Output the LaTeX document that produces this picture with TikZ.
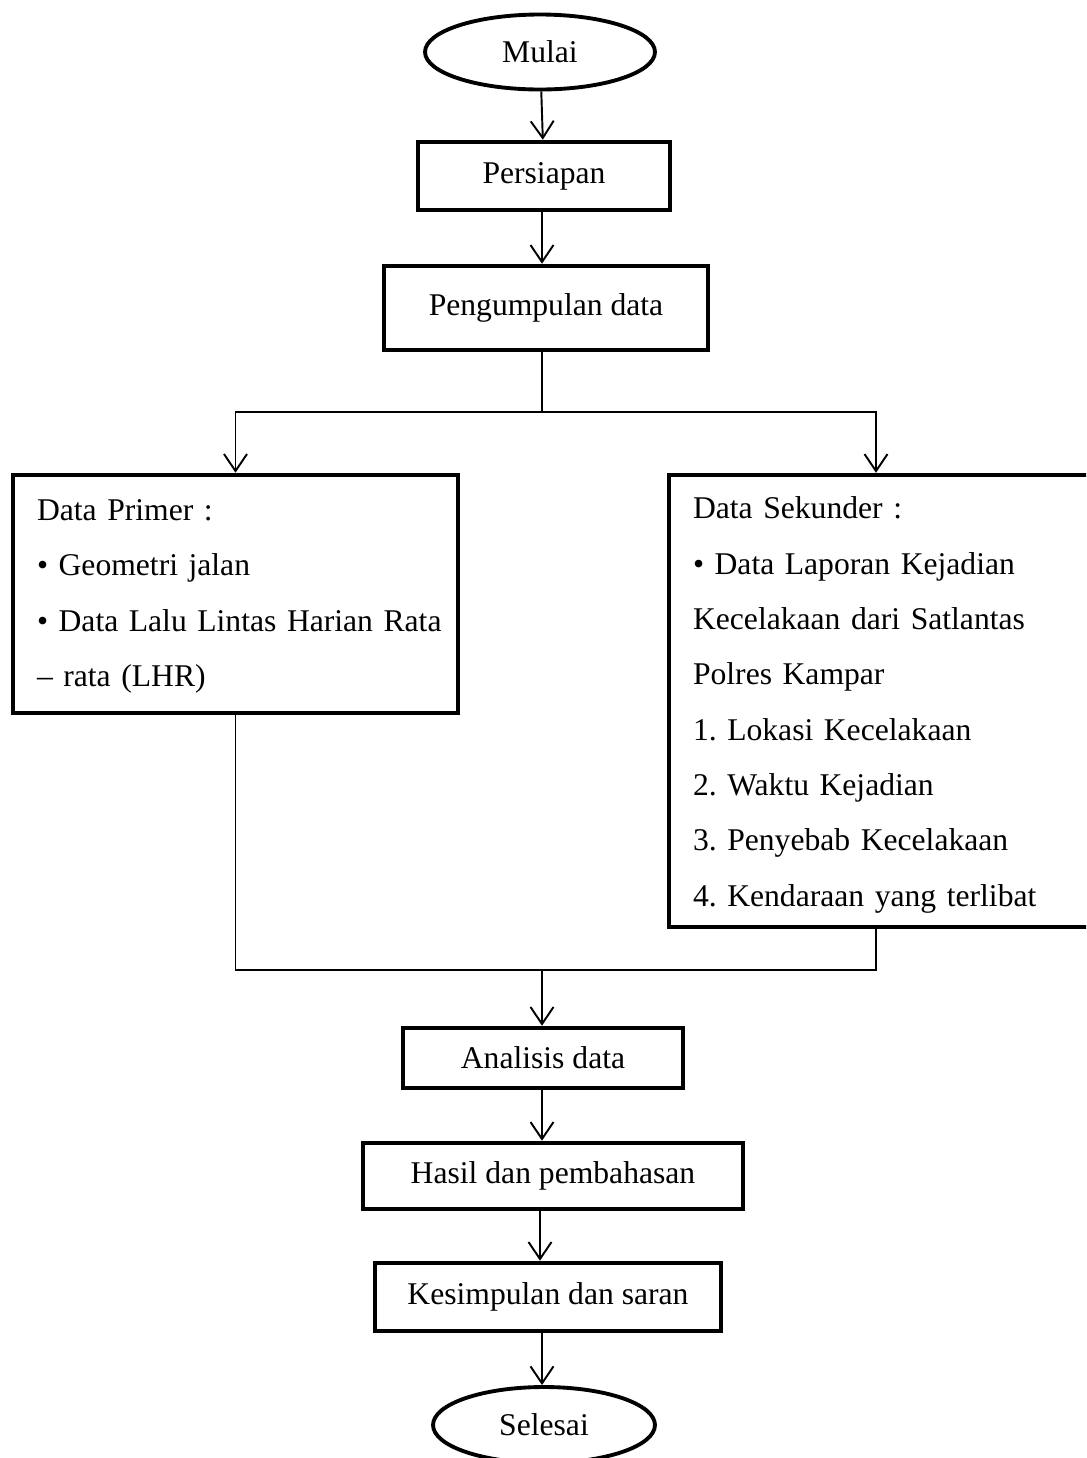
\documentclass[tikz,border=0pt]{standalone}
\usepackage{fontspec}
\setmainfont{Liberation Serif}
\usetikzlibrary{shapes.geometric,arrows.meta}
\begin{document}
\begin{tikzpicture}[x=0.02cm, y=-0.02cm,
  every node/.style = {font=\fontsize{18}{31.5}\selectfont\frenchspacing},
  box/.style = {shape=rectangle, draw, line width=2.6pt, inner sep=0pt},
  term/.style = {shape=ellipse, draw, line width=2.2pt, inner sep=0pt},
  listbox/.style = {shape=rectangle, draw, line width=2.6pt, align=left,
    inner ysep=0pt, inner xsep=0.48cm},
  arr/.style = {line width=1.1pt, -{Straight Barb[length=3.4mm, width=4.6mm, line width=1.1pt]}},
  line/.style = {line width=1.1pt}]
  \useasboundingbox (0,0) rectangle (1086,1458);
  \clip (0,0) rectangle (1086,1458);
  \node[term, minimum width=4.6cm, minimum height=1.5cm] (mulai) at (540,52) {Mulai};
  \node[box, minimum width=5.04cm, minimum height=1.36cm] (persiapan) at (544,176) {Persiapan};
  \node[box, minimum width=6.48cm, minimum height=1.68cm] (kumpul) at (546,308) {Pengumpulan data};
  \node[listbox, text width=7.94cm, minimum height=4.76cm] (primer) at (235.5,594)
    {\rule{0pt}{14.5pt}Data Primer :\\\textbullet\ Geometri jalan\\\mbox{\textbullet\ Data Lalu Lintas Harian Rata}\\– rata (LHR)};
  \node[listbox, text width=7.86cm, minimum height=9.04cm] (sekunder) at (889.5,701)
    {\rule{0pt}{17pt}Data Sekunder :\\\textbullet\ Data Laporan Kejadian\\Kecelakaan dari Satlantas\\Polres Kampar\\
     1. Lokasi Kecelakaan\\2. Waktu Kejadian\\3. Penyebab Kecelakaan\\4. Kendaraan yang terlibat};
  \node[box, minimum width=5.6cm, minimum height=1.2cm] (analisis) at (543,1058) {Analisis data};
  \node[box, minimum width=7.6cm, minimum height=1.32cm] (hasil) at (553,1176) {Hasil dan pembahasan};
  \node[box, minimum width=6.92cm, minimum height=1.36cm] (simpul) at (548,1297) {Kesimpulan dan saran};
  \node[term, minimum width=4.44cm, minimum height=1.52cm] (selesai) at (544,1425) {Selesai};
  % percabangan data
  \coordinate (split) at (542,412);
  \coordinate (kanan) at (876,412);
  \coordinate (merge) at (542,970);
  \draw[arr] (mulai) -- (persiapan);
  \draw[arr] (persiapan.south -| 542,0) -- (kumpul.north -| 542,0);
  \draw[line] (kumpul.south -| split) -- (split);
  \draw[arr] (split) -| (primer.north);
  \draw[arr] (split) -- (kanan) -- (kanan |- sekunder.north);
  \draw[line] (primer.south) |- (merge);
  \draw[line] (kanan |- sekunder.south) |- (merge);
  \draw[arr] (merge) -- (merge |- analisis.north);
  \draw[arr] (analisis.south -| merge) -- (merge |- hasil.north);
  \draw[arr] (hasil.south -| 540,0) -- (simpul.north -| 540,0);
  \draw[arr] (simpul.south -| merge) -- (merge |- selesai.north);
\end{tikzpicture}
\end{document}
